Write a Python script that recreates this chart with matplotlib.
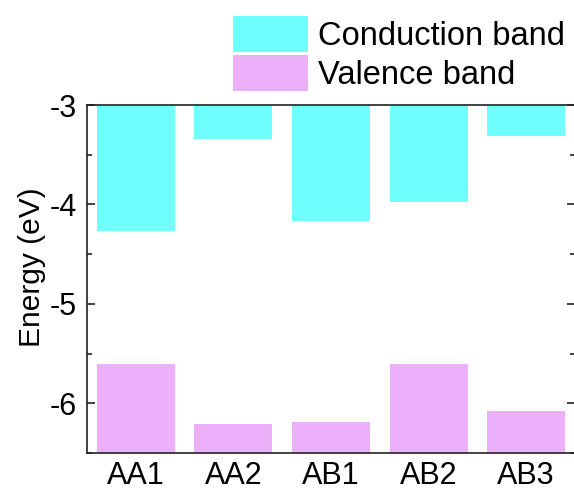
import matplotlib
matplotlib.use("Agg")
import matplotlib.pyplot as plt
from matplotlib.ticker import MultipleLocator

plt.rcParams['font.family'] = ['Liberation Sans', 'DejaVu Sans']
plt.rcParams['axes.unicode_minus'] = False

categories = ["AA1", "AA2", "AB1", "AB2", "AB3"]
conduction = [-4.27, -3.34, -4.17, -3.98, -3.31]
valence = [-5.60, -6.21, -6.19, -5.60, -6.08]
y_top = -3.0
y_bottom = -6.5

cb_color = "#70FFFF"
vb_color = "#EBB0F9"

fig = plt.figure(figsize=(5.74, 4.90), dpi=100)
ax = fig.add_axes([87/574, 1-453/490, 488/574, (453-105)/490])

x = list(range(len(categories)))
ax.bar(x, [c - y_top for c in conduction], bottom=y_top, width=0.8,
       color=cb_color, label="Conduction band", zorder=2)
ax.bar(x, [v - y_bottom for v in valence], bottom=y_bottom, width=0.8,
       color=vb_color, label="Valence band", zorder=2)

ax.set_xlim(-0.5, len(categories) - 0.5)
ax.set_ylim(y_bottom, y_top)
ax.set_xticks(x)
ax.set_xticklabels(categories)
ax.yaxis.set_minor_locator(MultipleLocator(0.5))
ax.set_yticks([-3, -4, -5, -6])
ax.set_yticklabels(["-3", "-4", "-5", "-6"])

for s in ax.spines.values():
    s.set_linewidth(1.2)
    s.set_color("#222222")

ax.tick_params(axis='both', which='major', direction='in', length=6, width=1.2,
               top=True, right=True, labelsize=22, colors="#222222",
               labelcolor="black")
ax.tick_params(axis='x', which='major', pad=6)
ax.tick_params(axis='y', which='major', pad=7.5)
ax.tick_params(axis='y', which='minor', direction='in', length=3.5, width=1.2,
               right=True, colors="#222222")
ax.tick_params(axis='x', which='minor', bottom=False, top=False)

ax.set_ylabel("Energy (eV)", fontsize=21.5)
ax.yaxis.set_label_coords(-0.084, 0.533)

fig.legend(loc='upper left', bbox_to_anchor=(233/574, 1-16/490),
           frameon=False, fontsize=23.5, handlelength=2.3, handleheight=1.32,
           handletextpad=0.3, labelspacing=0.1, borderpad=0, borderaxespad=0)

fig.savefig("out.png", dpi=100)
